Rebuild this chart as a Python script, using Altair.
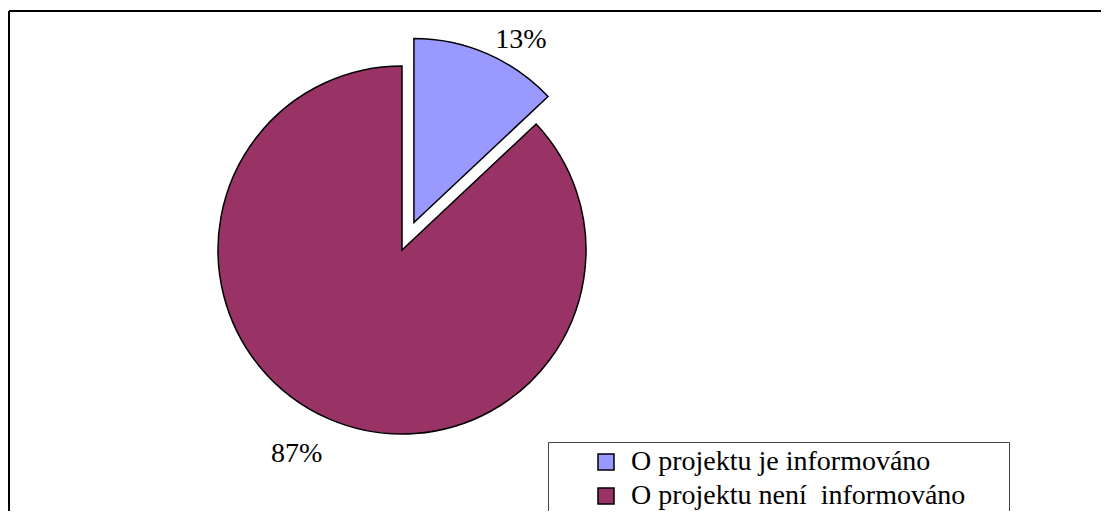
import altair as alt
import pandas as pd

# ---- data ----
categories = ["O projektu je informováno", "O projektu není\u00a0 informováno"]
values = [13, 87]
colors = ["#9999FF", "#993366"]

df = pd.DataFrame({"category": categories, "value": values, "order": list(range(len(categories)))})

# ---- layout / style constants ----
W, H = 1092, 500       # plot area
CX, CY = 393, 239      # pie centre inside the plot area (px)
R = 184                # pie radius
EXPLODE = 30           # pull-out distance of the first slice
FONT = "Liberation Serif"

base = (
    alt.Chart(df)
    .transform_window(cum="sum(value)", sort=[alt.SortField("order")], frame=[None, 0])
    .transform_joinaggregate(total="sum(value)")
    .transform_calculate(t2="2*PI*datum.cum/datum.total")
    .transform_calculate(t1="2*PI*(datum.cum-datum.value)/datum.total")
    .transform_calculate(mid="(datum.t1+datum.t2)/2")
    .transform_calculate(ex=f"datum.order == 0 ? {EXPLODE} : 0")
    .transform_calculate(cx=f"{CX} + datum.ex*sin(datum.mid)")
    .transform_calculate(cy=f"{CY} - datum.ex*cos(datum.mid)")
    .transform_calculate(pct="format(datum.value/datum.total, '.0%')")
)

xenc = alt.X("cx:Q", scale=None, axis=None)
yenc = alt.Y("cy:Q", scale=None, axis=None)

arcs = base.mark_arc(radius=R, stroke="black", strokeWidth=1.5).encode(
    x=xenc,
    y=yenc,
    theta=alt.Theta("t1:Q", scale=None, stack=None),
    theta2="t2:Q",
    color=alt.Color(
        "category:N",
        sort=categories,
        scale=alt.Scale(domain=categories, range=colors),
        legend=alt.Legend(
            title="\u00a0",
            titleOrient="right",
            titlePadding=38,
            titleFontSize=28,
            orient="none",
            legendX=539,
            legendY=431,
            labelFont=FONT,
            labelFontSize=28,
            labelColor="black",
            labelLimit=1000,
            symbolType="square",
            symbolSize=256,
            symbolStrokeColor="black",
            symbolStrokeWidth=1.5,
            symbolOpacity=1,
            symbolOffset=38,
            labelOffset=11,
            padding=6,
            rowPadding=6,
            strokeColor="#444444",
        ),
    ),
)

lab_right = base.transform_filter("datum.order == 0").mark_text(
    radius=190, align="left", baseline="alphabetic", dx=6,
    font=FONT, fontSize=28, color="black",
).encode(x=xenc, y=yenc, theta=alt.Theta("mid:Q", scale=None, stack=None), text="pct:N")

lab_left = base.transform_filter("datum.order == 1").mark_text(
    radius=231, align="right", baseline="alphabetic", dx=12,
    font=FONT, fontSize=28, color="black",
).encode(x=xenc, y=yenc, theta=alt.Theta("mid:Q", scale=None, stack=None), text="pct:N")

# chart frame: only the top and left edges fall inside the visible window
frame_top = alt.Chart(df).mark_rule(color="black", strokeWidth=2).encode(
    x=alt.value(0), x2=alt.value(W), y=alt.value(0)
)
frame_left = alt.Chart(df).mark_rule(color="black", strokeWidth=2).encode(
    x=alt.value(0), y=alt.value(0), y2=alt.value(H)
)

chart = (
    alt.layer(frame_top, frame_left, arcs, lab_right, lab_left)
    .properties(
        width=W,
        height=H,
        autosize=alt.AutoSizeParams(type="none"),
        padding={"left": 1, "top": 3, "right": 0, "bottom": 0},
    )
    .configure_view(stroke=None)
)

chart.save("out.html", embed_options={"renderer": "svg", "actions": False})
